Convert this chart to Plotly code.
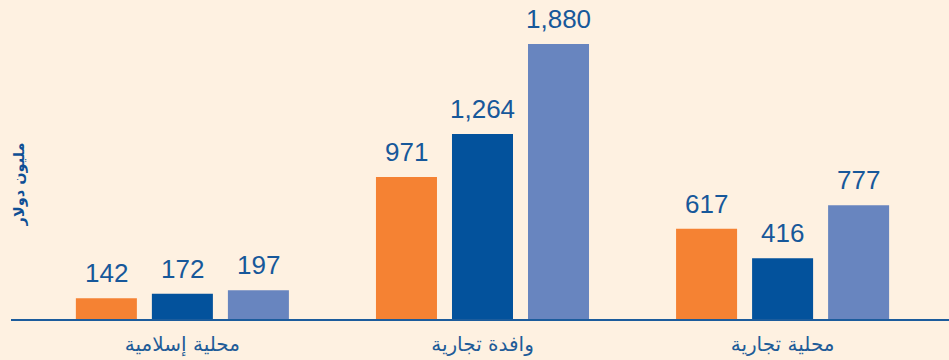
import plotly.graph_objects as go

# Categories (Arabic) and the three series per category
categories = ["محلية إسلامية", "وافدة تجارية", "محلية تجارية"]
series_a = [142, 971, 617]
series_b = [172, 1264, 416]
series_c = [197, 1880, 777]

colors = ["#F58233", "#03529C", "#6885BF"]
label_color = "#17589A"
bg = "#FEF1E1"

group_x = [0, 1, 2]
offsets = [-0.2533, 0.0, 0.2533]
bar_width = 0.2033

fig = go.Figure()
annotations = []
for vals, col, off in zip([series_a, series_b, series_c], colors, offsets):
    xs = [g + off for g in group_x]
    fig.add_trace(go.Bar(
        x=xs, y=vals, width=bar_width, marker=dict(color=col, line=dict(width=0)),
        showlegend=False, hoverinfo="skip",
    ))
    for x, v in zip(xs, vals):
        annotations.append(dict(
            x=x, y=v, xref="x", yref="y", text=f"{v:,}", showarrow=False,
            yanchor="bottom", xanchor="center", yshift=8,
            font=dict(family="Liberation Sans, Arial", size=26, color=label_color),
        ))

annotations.append(dict(
    xref="paper", yref="paper", x=0, y=0.45, xshift=8, text="<b>مليون دولار</b>",
    showarrow=False, textangle=-90, xanchor="center", yanchor="middle",
    font=dict(family="DejaVu Sans, Arial", size=14.5, color="#0E4F95"),
))

fig.update_layout(
    width=949, height=360,
    margin=dict(l=11, r=0, t=20, b=41),
    paper_bgcolor=bg, plot_bgcolor=bg,
    barmode="overlay",
    annotations=annotations,
    xaxis=dict(
        range=[-0.5711, 2.5545], tickvals=group_x, ticktext=categories,
        showgrid=False, zeroline=False, showline=True, linecolor="#1C5C9C", linewidth=2,
        ticks="outside", ticklen=6, tickcolor=bg,
        tickfont=dict(family="DejaVu Sans, Arial", size=20, color="#1F5C98"),
    ),
    yaxis=dict(range=[0, 2044], visible=False, showgrid=False, zeroline=False),
)

fig.write_html("out.html")
